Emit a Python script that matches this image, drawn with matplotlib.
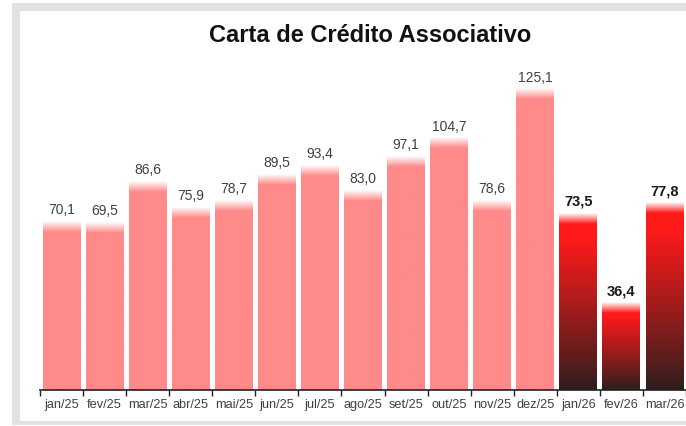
import numpy as np
import matplotlib
matplotlib.use("Agg")
import matplotlib.pyplot as plt
from matplotlib.patches import Rectangle
from matplotlib.colors import to_rgb

plt.rcParams['font.family'] = ['Liberation Sans', 'DejaVu Sans']

categories = ["jan/25", "fev/25", "mar/25", "abr/25", "mai/25", "jun/25", "jul/25",
              "ago/25", "set/25", "out/25", "nov/25", "dez/25", "jan/26", "fev/26", "mar/26"]
values = [70.1, 69.5, 86.6, 75.9, 78.7, 89.5, 93.4, 83.0, 97.1, 104.7, 78.6, 125.1,
          73.5, 36.4, 77.8]
highlight = [False] * 12 + [True] * 3
title = "Carta de Crédito Associativo"

W, H = 686, 427
fig = plt.figure(figsize=(W / 100, H / 100), dpi=100)
fig.patch.set_facecolor("white")

# frame (gray border like screenshot)
def px_rect(x0, y0, x1, y1, color, z):
    fig.patches.append(Rectangle((x0 / W, 1 - y1 / H), (x1 - x0) / W, (y1 - y0) / H,
                                 transform=fig.transFigure, facecolor=color,
                                 edgecolor="none", zorder=z))
px_rect(12, 4, 700, 426, "#e2e2e2", -3)
px_rect(20, 12, 700, 422, "white", -2)

ax = fig.add_axes([40 / W, 1 - 391 / H, 646 / W, (391 - 66) / H])
ax.set_facecolor("none")
x = np.arange(len(categories))
bars = ax.bar(x, values, width=0.88, color="none", edgecolor="none", zorder=2)
ax.set_xlim(-0.5, len(categories) - 0.5)
ax.set_ylim(0, 135)

pink = np.array(to_rgb("#ff8a8a"))
red = np.array(to_rgb("#ff1a1a"))
dark = np.array(to_rgb("#2a1e1e"))
white = np.array([1.0, 1.0, 1.0])
fade_units = 4.5
N = 300
for b, hl in zip(bars, highlight):
    x0, w, h = b.get_x(), b.get_width(), b.get_height()
    t = (np.arange(N) + 0.5) / N  # 0 bottom, 1 top
    ypos = t * h
    if hl:
        s = np.clip(t / 0.86, 0, 1) ** 0.9
        base = dark[None, :] * (1 - s[:, None]) + red[None, :] * s[:, None]
    else:
        base = np.tile(pink, (N, 1))
    f = np.clip((h - ypos) / fade_units, 0, 1)[:, None]
    col = white[None, :] * (1 - f) + base * f
    img = np.repeat(col[:, None, :], 4, axis=1)
    ax.imshow(img, extent=(x0, x0 + w, 0, h), aspect="auto", origin="lower",
              zorder=2, interpolation="bilinear", interpolation_stage="rgba")

for xi, v, hl in zip(x, values, highlight):
    lbl = f"{v:.1f}".replace(".", ",")
    if hl:
        ax.text(xi, v + 2.2, lbl, ha="center", va="bottom", fontsize=10.5,
                fontweight="bold", color="#1a1a1a")
    else:
        ax.text(xi, v + 2.2, lbl, ha="center", va="bottom", fontsize=10,
                color="#404040")

ax.set_aspect("auto")
ax.set_xlim(-0.5, len(categories) - 0.5)
ax.set_ylim(0, 135)
for s in ["top", "right", "left"]:
    ax.spines[s].set_visible(False)
ax.spines["bottom"].set_color("#202020")
ax.spines["bottom"].set_linewidth(1.2)
ax.set_yticks([])
ax.set_xticks(np.arange(-0.5, len(categories), 1.0))
ax.set_xticklabels([])
ax.tick_params(axis="x", which="major", length=4, width=1, color="#202020", direction="out")
ax.set_xticks(x, minor=True)
ax.set_xticklabels(categories, minor=True, fontsize=9.2, color="#404040")
ax.tick_params(axis="x", which="minor", length=0, pad=6)

fig.text(370 / W, 1 - 35 / H, title, ha="center", va="center", fontsize=17,
         fontweight="bold", color="#111111")

fig.savefig("out.png", dpi=100)
